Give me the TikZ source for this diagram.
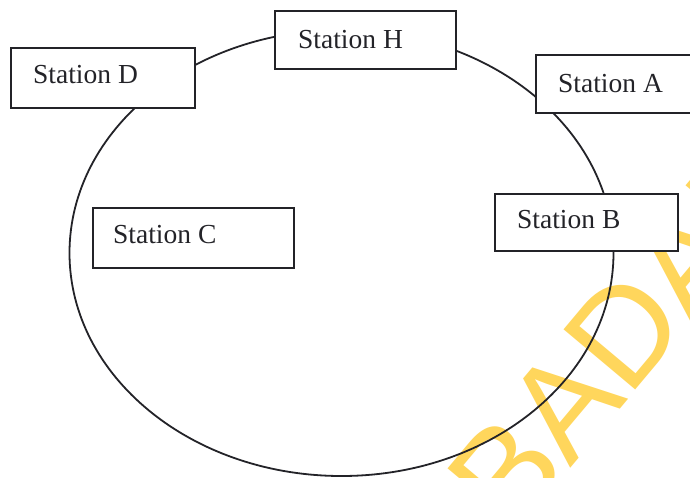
\documentclass[tikz,border=0pt]{standalone}
\usepackage{fontspec}
\setmainfont{Liberation Serif}
\newfontfamily\wmfont{Liberation Sans}
\definecolor{inkc}{RGB}{35,35,40}
\definecolor{wmyellow}{RGB}{255,214,92}
\tikzset{
  stationbox/.style={draw=inkc, line width=1.8pt, fill=white, rectangle, inner sep=0pt, anchor=north west},
  stationlbl/.style={text=inkc, inner sep=0pt, anchor=base west, font=\fontsize{27.5}{30}\selectfont},
  ring/.style={draw=inkc, line width=1.8pt},
  watermark/.style={text=wmyellow, inner sep=0pt, anchor=base west, font=\wmfont\fontsize{136}{136}\selectfont, rotate=50}
}
\begin{document}
\begin{tikzpicture}[x=1pt,y=-1pt]
\useasboundingbox (0,0) rectangle (690,477);
\clip (0,0) rectangle (690,477);
\fill[white] (0,0) rectangle (690,477);
% watermark
\node[watermark] (wm) at (512,538) {BADAN};
% ring
\coordinate (ctr) at (341.5,253);
\draw[ring] (ctr) ellipse [x radius=272, y radius=223];
% boxes
\node[stationbox, minimum width=184, minimum height=60] (D) at (10,47) {};
\node[stationbox, minimum width=181, minimum height=58] (H) at (274,10) {};
\node[stationbox, minimum width=170, minimum height=58] (A) at (535,54) {};
\node[stationbox, minimum width=183, minimum height=57] (B) at (494,193) {};
\node[stationbox, minimum width=201, minimum height=60] (C) at (92,207) {};
% labels
\node[stationlbl] (Dt) at (33,83) {Station D};
\node[stationlbl] (Ht) at (298,48) {Station H};
\node[stationlbl] (At) at (558,92) {Station A};
\node[stationlbl] (Bt) at (517,228) {Station B};
\node[stationlbl] (Ct) at (113,243) {Station C};
\end{tikzpicture}
\end{document}
